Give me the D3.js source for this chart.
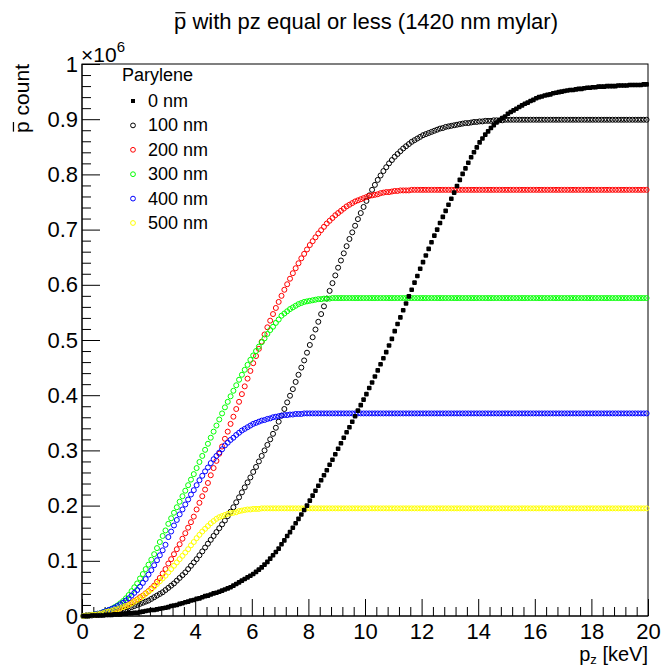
<!DOCTYPE html>
<html><head><meta charset="utf-8">
<script src="https://cdn.jsdelivr.net/npm/d3@7"></script>
<style>
body{margin:0;background:#fff}
svg{display:block}
text{font-family:"Liberation Sans",Arial,Helvetica,sans-serif;fill:#000}
</style>
</head><body>
<svg id="chart" width="665" height="668"></svg>
<script>
// ---------------- data (counts in units of 10^6), 200 bins of 0.1 keV ----------------
const binWidth = 0.1;
const xTicks = [0,2,4,6,8,10,12,14,16,18,20];
const yTicks = [0,0.1,0.2,0.3,0.4,0.5,0.6,0.7,0.8,0.9,1];
const yTickLabels = ["0","0.1","0.2","0.3","0.4","0.5","0.6","0.7","0.8","0.9","1"];
const seriesNames = ["0 nm","100 nm","200 nm","300 nm","400 nm","500 nm"];
const seriesColors = ["#000000","#000000","#ff0000","#00ff00","#0000ff","#ffff00"];

const s0nm = [
0.000,0.000,0.000,0.001,0.001,0.001,0.001,0.001,0.002,0.002,
0.002,0.003,0.003,0.003,0.004,0.004,0.005,0.005,0.006,0.006,
0.007,0.008,0.009,0.010,0.011,0.011,0.012,0.013,0.014,0.015,
0.016,0.018,0.019,0.020,0.022,0.023,0.025,0.026,0.028,0.029,
0.031,0.032,0.034,0.036,0.037,0.039,0.041,0.042,0.044,0.046,
0.048,0.050,0.052,0.055,0.058,0.061,0.064,0.067,0.070,0.073,
0.076,0.080,0.084,0.088,0.093,0.098,0.104,0.110,0.116,0.122,
0.130,0.137,0.145,0.152,0.160,0.168,0.176,0.184,0.192,0.200,
0.209,0.218,0.227,0.236,0.246,0.255,0.264,0.274,0.283,0.293,
0.303,0.313,0.323,0.333,0.342,0.352,0.362,0.372,0.382,0.392,
0.402,0.413,0.423,0.434,0.445,0.456,0.467,0.478,0.490,0.502,
0.516,0.529,0.541,0.554,0.566,0.579,0.591,0.604,0.616,0.629,
0.641,0.653,0.665,0.677,0.689,0.700,0.712,0.723,0.734,0.745,
0.756,0.767,0.779,0.790,0.801,0.811,0.821,0.831,0.840,0.849,
0.858,0.865,0.872,0.878,0.884,0.889,0.894,0.898,0.902,0.905,
0.910,0.913,0.916,0.919,0.922,0.925,0.928,0.930,0.933,0.935,
0.938,0.940,0.941,0.943,0.944,0.945,0.947,0.948,0.949,0.950,
0.951,0.952,0.953,0.953,0.954,0.955,0.955,0.956,0.957,0.957,
0.958,0.958,0.959,0.959,0.959,0.960,0.960,0.960,0.960,0.961,
0.961,0.961,0.961,0.962,0.962,0.962,0.962,0.962,0.963,0.963];

const s100nm = [
0.000,0.000,0.001,0.001,0.002,0.002,0.003,0.004,0.005,0.006,
0.006,0.007,0.008,0.009,0.011,0.012,0.014,0.016,0.018,0.020,
0.022,0.024,0.026,0.028,0.031,0.034,0.037,0.040,0.043,0.047,
0.051,0.055,0.059,0.064,0.069,0.074,0.079,0.085,0.091,0.097,
0.103,0.110,0.117,0.124,0.131,0.138,0.145,0.152,0.159,0.166,
0.173,0.181,0.189,0.197,0.206,0.215,0.224,0.233,0.242,0.251,
0.261,0.270,0.280,0.290,0.300,0.310,0.320,0.330,0.341,0.352,
0.363,0.375,0.387,0.399,0.411,0.424,0.437,0.450,0.463,0.477,
0.491,0.505,0.519,0.533,0.547,0.561,0.575,0.589,0.603,0.617,
0.631,0.644,0.657,0.670,0.683,0.695,0.707,0.719,0.730,0.741,
0.752,0.762,0.772,0.781,0.790,0.798,0.806,0.813,0.820,0.826,
0.832,0.837,0.842,0.847,0.851,0.855,0.859,0.862,0.865,0.868,
0.871,0.873,0.875,0.877,0.879,0.881,0.883,0.884,0.886,0.887,
0.888,0.889,0.890,0.891,0.892,0.893,0.893,0.894,0.895,0.895,
0.896,0.896,0.897,0.897,0.897,0.898,0.898,0.898,0.898,0.899,
0.899,0.899,0.899,0.899,0.899,0.899,0.899,0.899,0.899,0.899,
0.899,0.899,0.899,0.899,0.899,0.899,0.899,0.899,0.899,0.899,
0.899,0.899,0.899,0.899,0.899,0.899,0.899,0.899,0.899,0.899,
0.899,0.899,0.899,0.899,0.899,0.899,0.899,0.899,0.899,0.899,
0.899,0.899,0.899,0.899,0.899,0.899,0.899,0.899,0.899,0.899];

const s200nm = [
0.000,0.001,0.001,0.002,0.002,0.003,0.004,0.005,0.007,0.008,
0.009,0.011,0.012,0.014,0.016,0.018,0.021,0.024,0.027,0.030,
0.034,0.037,0.041,0.045,0.050,0.055,0.062,0.069,0.077,0.085,
0.095,0.103,0.112,0.121,0.130,0.140,0.150,0.160,0.170,0.180,
0.193,0.205,0.217,0.229,0.241,0.255,0.268,0.281,0.294,0.307,
0.321,0.334,0.348,0.361,0.375,0.388,0.402,0.416,0.430,0.444,
0.458,0.471,0.484,0.497,0.510,0.523,0.535,0.547,0.558,0.569,
0.580,0.591,0.601,0.611,0.621,0.630,0.639,0.648,0.656,0.664,
0.672,0.679,0.686,0.693,0.699,0.705,0.711,0.716,0.721,0.726,
0.730,0.734,0.738,0.742,0.745,0.748,0.751,0.753,0.755,0.757,
0.759,0.761,0.762,0.763,0.764,0.766,0.767,0.768,0.768,0.769,
0.770,0.770,0.771,0.771,0.771,0.771,0.772,0.772,0.772,0.772,
0.772,0.772,0.772,0.772,0.772,0.772,0.772,0.772,0.772,0.772,
0.772,0.772,0.772,0.772,0.772,0.772,0.772,0.772,0.772,0.772,
0.772,0.772,0.772,0.772,0.772,0.772,0.772,0.772,0.772,0.772,
0.772,0.772,0.772,0.772,0.772,0.772,0.772,0.772,0.772,0.772,
0.772,0.772,0.772,0.772,0.772,0.772,0.772,0.772,0.772,0.772,
0.772,0.772,0.772,0.772,0.772,0.772,0.772,0.772,0.772,0.772,
0.772,0.772,0.772,0.772,0.772,0.772,0.772,0.772,0.772,0.772,
0.772,0.772,0.772,0.772,0.772,0.772,0.772,0.772,0.772,0.772];

const s300nm = [
0.000,0.001,0.001,0.002,0.003,0.004,0.005,0.007,0.009,0.011,
0.013,0.016,0.019,0.023,0.027,0.032,0.038,0.045,0.052,0.059,
0.068,0.076,0.085,0.093,0.102,0.112,0.123,0.134,0.145,0.155,
0.167,0.177,0.187,0.197,0.207,0.217,0.227,0.237,0.247,0.257,
0.268,0.279,0.290,0.301,0.312,0.323,0.334,0.345,0.356,0.367,
0.378,0.388,0.398,0.408,0.418,0.428,0.437,0.446,0.455,0.464,
0.472,0.480,0.488,0.496,0.503,0.511,0.518,0.524,0.531,0.537,
0.544,0.548,0.552,0.556,0.559,0.562,0.565,0.567,0.569,0.570,
0.571,0.572,0.573,0.574,0.574,0.575,0.575,0.575,0.576,0.576,
0.576,0.576,0.576,0.576,0.576,0.576,0.576,0.576,0.576,0.576,
0.576,0.576,0.576,0.576,0.576,0.576,0.576,0.576,0.576,0.576,
0.576,0.576,0.576,0.576,0.576,0.576,0.576,0.576,0.576,0.576,
0.576,0.576,0.576,0.576,0.576,0.576,0.576,0.576,0.576,0.576,
0.576,0.576,0.576,0.576,0.576,0.576,0.576,0.576,0.576,0.576,
0.576,0.576,0.576,0.576,0.576,0.576,0.576,0.576,0.576,0.576,
0.576,0.576,0.576,0.576,0.576,0.576,0.576,0.576,0.576,0.576,
0.576,0.576,0.576,0.576,0.576,0.576,0.576,0.576,0.576,0.576,
0.576,0.576,0.576,0.576,0.576,0.576,0.576,0.576,0.576,0.576,
0.576,0.576,0.576,0.576,0.576,0.576,0.576,0.576,0.576,0.576,
0.576,0.576,0.576,0.576,0.576,0.576,0.576,0.576,0.576,0.576];

const s400nm = [
0.000,0.001,0.001,0.002,0.003,0.004,0.005,0.007,0.009,0.011,
0.013,0.015,0.018,0.021,0.024,0.028,0.032,0.037,0.042,0.047,
0.053,0.060,0.067,0.075,0.083,0.092,0.101,0.110,0.119,0.129,
0.143,0.153,0.164,0.174,0.184,0.193,0.202,0.211,0.220,0.228,
0.237,0.246,0.254,0.262,0.269,0.277,0.284,0.290,0.296,0.302,
0.309,0.314,0.319,0.323,0.328,0.332,0.336,0.339,0.342,0.345,
0.348,0.350,0.352,0.354,0.355,0.357,0.358,0.360,0.361,0.362,
0.363,0.364,0.364,0.365,0.365,0.366,0.366,0.366,0.367,0.367,
0.367,0.367,0.367,0.367,0.367,0.367,0.367,0.367,0.367,0.367,
0.367,0.367,0.367,0.367,0.367,0.367,0.367,0.367,0.367,0.367,
0.367,0.367,0.367,0.367,0.367,0.367,0.367,0.367,0.367,0.367,
0.367,0.367,0.367,0.367,0.367,0.367,0.367,0.367,0.367,0.367,
0.367,0.367,0.367,0.367,0.367,0.367,0.367,0.367,0.367,0.367,
0.367,0.367,0.367,0.367,0.367,0.367,0.367,0.367,0.367,0.367,
0.367,0.367,0.367,0.367,0.367,0.367,0.367,0.367,0.367,0.367,
0.367,0.367,0.367,0.367,0.367,0.367,0.367,0.367,0.367,0.367,
0.367,0.367,0.367,0.367,0.367,0.367,0.367,0.367,0.367,0.367,
0.367,0.367,0.367,0.367,0.367,0.367,0.367,0.367,0.367,0.367,
0.367,0.367,0.367,0.367,0.367,0.367,0.367,0.367,0.367,0.367,
0.367,0.367,0.367,0.367,0.367,0.367,0.367,0.367,0.367,0.367];

const s500nm = [
0.000,0.001,0.001,0.002,0.002,0.003,0.004,0.005,0.007,0.008,
0.009,0.011,0.012,0.014,0.016,0.018,0.020,0.023,0.026,0.029,
0.032,0.036,0.040,0.044,0.048,0.053,0.058,0.063,0.068,0.073,
0.079,0.085,0.091,0.097,0.103,0.109,0.115,0.121,0.128,0.134,
0.141,0.147,0.153,0.158,0.163,0.168,0.172,0.176,0.179,0.181,
0.183,0.185,0.186,0.187,0.188,0.190,0.191,0.192,0.193,0.193,
0.194,0.194,0.194,0.195,0.195,0.195,0.195,0.195,0.195,0.195,
0.195,0.195,0.195,0.195,0.195,0.195,0.195,0.195,0.195,0.195,
0.195,0.195,0.195,0.195,0.195,0.195,0.195,0.195,0.195,0.195,
0.195,0.195,0.195,0.195,0.195,0.195,0.195,0.195,0.195,0.195,
0.195,0.195,0.195,0.195,0.195,0.195,0.195,0.195,0.195,0.195,
0.195,0.195,0.195,0.195,0.195,0.195,0.195,0.195,0.195,0.195,
0.195,0.195,0.195,0.195,0.195,0.195,0.195,0.195,0.195,0.195,
0.195,0.195,0.195,0.195,0.195,0.195,0.195,0.195,0.195,0.195,
0.195,0.195,0.195,0.195,0.195,0.195,0.195,0.195,0.195,0.195,
0.195,0.195,0.195,0.195,0.195,0.195,0.195,0.195,0.195,0.195,
0.195,0.195,0.195,0.195,0.195,0.195,0.195,0.195,0.195,0.195,
0.195,0.195,0.195,0.195,0.195,0.195,0.195,0.195,0.195,0.195,
0.195,0.195,0.195,0.195,0.195,0.195,0.195,0.195,0.195,0.195,
0.195,0.195,0.195,0.195,0.195,0.195,0.195,0.195,0.195,0.195];

const seriesValues = [s0nm, s100nm, s200nm, s300nm, s400nm, s500nm];

// ---------------- drawing ----------------
const svg = d3.select("#chart");
const W = 665, H = 668;
const m = {left: 82, right: 17, top: 64, bottom: 52};
const x = d3.scaleLinear().domain([0, 20]).range([m.left, W - m.right]);
const y = d3.scaleLinear().domain([0, 1]).range([H - m.bottom, m.top]);

svg.append("rect").attr("width", W).attr("height", H).attr("fill", "#fff");

// frame
svg.append("rect")
  .attr("x", x(0)).attr("y", y(1))
  .attr("width", x(20) - x(0)).attr("height", y(0) - y(1))
  .attr("fill", "none").attr("stroke", "#000").attr("stroke-width", 1);

// minor ticks
const xMinor = d3.range(0, 20.0001, 0.4).filter(v => Math.abs(v/2 - Math.round(v/2)) > 1e-6);
const yMinor = d3.range(0, 1.0001, 0.02).filter(v => Math.abs(v*10 - Math.round(v*10)) > 1e-6);

const gx = svg.append("g").attr("transform", `translate(0,${y(0)})`);
gx.call(d3.axisBottom(x).tickValues(xMinor).tickSize(-9).tickFormat(""));
gx.call(g => g.select(".domain").remove());
const gx2 = svg.append("g").attr("transform", `translate(0,${y(0)})`);
gx2.call(d3.axisBottom(x).tickValues(xTicks).tickSize(-17).tickPadding(7).tickFormat(d => String(d)));
gx2.call(g => g.select(".domain").remove());
gx2.selectAll("text").attr("font-size", 22).attr("font-family", "Liberation Sans, Arial, sans-serif");

const gy = svg.append("g").attr("transform", `translate(${x(0)},0)`);
gy.call(d3.axisLeft(y).tickValues(yMinor).tickSize(-9).tickFormat(""));
gy.call(g => g.select(".domain").remove());
const gy2 = svg.append("g").attr("transform", `translate(${x(0)},0)`);
gy2.call(d3.axisLeft(y).tickValues(yTicks).tickSize(-18).tickPadding(4).tickFormat((d, i) => yTickLabels[i]));
gy2.call(g => g.select(".domain").remove());
gy2.selectAll("text").attr("font-size", 22).attr("font-family", "Liberation Sans, Arial, sans-serif");
svg.selectAll(".tick line").attr("stroke", "#000").attr("stroke-width", 1);

// axis lines
svg.append("line").attr("x1", x(0)).attr("x2", x(0)).attr("y1", y(0)).attr("y2", y(1)).attr("stroke", "#000");
svg.append("line").attr("x1", x(0)).attr("x2", x(20)).attr("y1", y(0)).attr("y2", y(0)).attr("stroke", "#000");

// helper: draw a bar over the first character of a text element
function barFirstChar(parent, textSel, size) {
  const node = textSel.node();
  const ext = node.getExtentOfChar(0);
  const base = +textSel.attr("y") || 0;
  parent.append("line")
    .attr("x1", ext.x + size * 0.06).attr("x2", ext.x + ext.width - size * 0.04)
    .attr("y1", base - size * 0.74).attr("y2", base - size * 0.74)
    .attr("stroke", "#000").attr("stroke-width", Math.max(1, size * 0.06));
}

// title
const tg = svg.append("g");
const title = tg.append("text").attr("x", 366).attr("y", 29).attr("text-anchor", "middle")
  .attr("font-size", 22).text("p with pz equal or less (1420 nm mylar)");
barFirstChar(tg, title, 22);

// exponent label
const ex = svg.append("text").attr("x", x(0) - 1).attr("y", 62).attr("font-size", 21);
ex.append("tspan").text("×10");
ex.append("tspan").attr("dy", -10).attr("font-size", 15).text("6");

// y title
const yg = svg.append("g").attr("transform", `translate(29,${y(1)}) rotate(-90)`);
const yt = yg.append("text").attr("x", 0).attr("y", 0).attr("text-anchor", "end")
  .attr("font-size", 21).text("p count");
barFirstChar(yg, yt, 21);

// x title
const xt = svg.append("text").attr("x", x(20)).attr("y", 661).attr("text-anchor", "end").attr("font-size", 20);
xt.append("tspan").text("p");
xt.append("tspan").attr("dy", 3).attr("font-size", 13).text("z");
xt.append("tspan").attr("dy", -3).text(" [keV]");

// markers
const plotG = svg.append("g");
const drawOrder = [1, 2, 3, 4, 5, 0];
const sq = 4.6;
drawOrder.forEach(si => {
  const vals = seriesValues[si];
  const pts = vals.map((v, i) => ({k: (i + 0.5) * binWidth, v}));
  const g = plotG.append("g");
  if (si === 0) {
    g.selectAll("rect").data(pts).join("rect")
      .attr("x", d => x(d.k) - sq / 2).attr("y", d => y(d.v) - sq / 2)
      .attr("width", sq).attr("height", sq).attr("rx", 1)
      .attr("fill", seriesColors[si]);
  } else {
    g.selectAll("circle").data(pts).join("circle")
      .attr("cx", d => x(d.k)).attr("cy", d => y(d.v)).attr("r", 2.5)
      .attr("fill", "none").attr("stroke", seriesColors[si]).attr("stroke-width", 1);
  }
});

// legend
const lg = svg.append("g");
lg.append("text").attr("x", 122).attr("y", 81).attr("font-size", 18).text("Parylene");
seriesNames.forEach((name, i) => {
  const cy = 101 + i * 24.4;
  if (i === 0) {
    lg.append("rect").attr("x", 133 - 2).attr("y", cy - 2).attr("width", 4).attr("height", 4)
      .attr("fill", seriesColors[i]);
  } else {
    lg.append("circle").attr("cx", 133).attr("cy", cy).attr("r", 2.4).attr("fill", "none")
      .attr("stroke", seriesColors[i]).attr("stroke-width", 1);
  }
  lg.append("text").attr("x", 148).attr("y", cy + 6).attr("font-size", 18).text(name);
});
</script>
</body></html>
